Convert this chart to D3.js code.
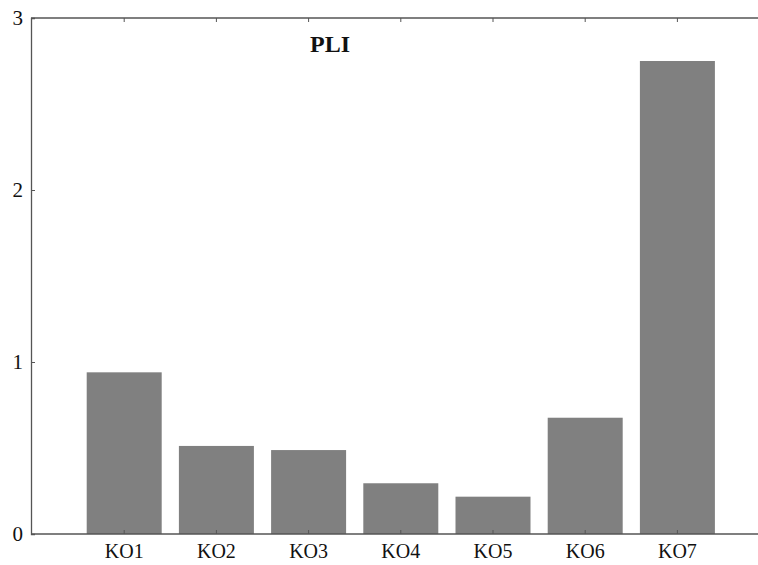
<!DOCTYPE html>
<html>
<head>
<meta charset="utf-8">
<script src="https://cdn.jsdelivr.net/npm/d3@7"></script>
<style>
  body { margin: 0; background: #fff; }
  svg { display: block; }
  text { font-family: "Liberation Serif", "DejaVu Serif", serif; }
</style>
</head>
<body>
<svg id="chart" width="758" height="565"></svg>
<script>
const categories = ["KO1", "KO2", "KO3", "KO4", "KO5", "KO6", "KO7"];
const values = [0.94, 0.512, 0.488, 0.295, 0.217, 0.676, 2.75];
const yTicks = [0, 1, 2, 3];
const title = "PLI";

const svg = d3.select("#chart");
const mLeft = 31, mTop = 18, mBottom = 534, mRight = 758;

const step = 92.2, bw = 75;
const pInner = (step - bw) / step;
const pOuter = 0.6;
const r0 = 86.7 - pOuter * step;
const r1 = r0 + step * (categories.length - pInner + 2 * pOuter);
const x = d3.scaleBand()
  .domain(categories)
  .range([r0, r1])
  .paddingInner(pInner)
  .paddingOuter(pOuter);

const y = d3.scaleLinear().domain([0, 3]).range([mBottom, mTop]);

const axisColor = "#555";

// bars
svg.append("g").selectAll("rect")
  .data(categories)
  .join("rect")
  .attr("x", d => x(d))
  .attr("width", x.bandwidth())
  .attr("y", (d, i) => y(values[i]))
  .attr("height", (d, i) => y(0) - y(values[i]))
  .attr("fill", "#808080");

// left axis
const yAxis = d3.axisLeft(y).tickValues(yTicks).tickSize(-4).tickPadding(8).tickFormat(d3.format("d"));
const gy = svg.append("g").attr("transform", `translate(${mLeft},0)`).call(yAxis);
gy.select(".domain").attr("stroke", axisColor).attr("stroke-width", 1.3);
gy.selectAll(".tick line").attr("stroke", axisColor);
gy.selectAll(".tick text").attr("font-size", 21).attr("fill", "#111")
  .attr("font-family", "Liberation Serif, serif");

// bottom axis
const xAxis = d3.axisBottom(x).tickSize(-4).tickPadding(10).tickSizeOuter(0);
const gx = svg.append("g").attr("transform", `translate(0,${mBottom})`).call(xAxis);
gx.select(".domain").attr("d", `M${mLeft},0H${mRight}`).attr("stroke", axisColor).attr("stroke-width", 1.3);
gx.selectAll(".tick line").attr("stroke", axisColor);
gx.selectAll(".tick text").attr("font-size", 20).attr("fill", "#111")
  .attr("font-family", "Liberation Serif, serif");

// top axis line
const xTop = d3.axisTop(x).tickSize(-4).tickFormat("").tickSizeOuter(0);
const gt = svg.append("g").attr("transform", `translate(0,${mTop})`).call(xTop);
gt.select(".domain").attr("d", `M${mLeft},0H${mRight}`).attr("stroke", axisColor).attr("stroke-width", 1.3);
gt.selectAll(".tick line").attr("stroke", axisColor);

// title
svg.append("text")
  .attr("x", 330).attr("y", 52)
  .attr("text-anchor", "middle")
  .attr("font-size", 24).attr("font-weight", "bold")
  .attr("fill", "#111")
  .text(title);
</script>
</body>
</html>
